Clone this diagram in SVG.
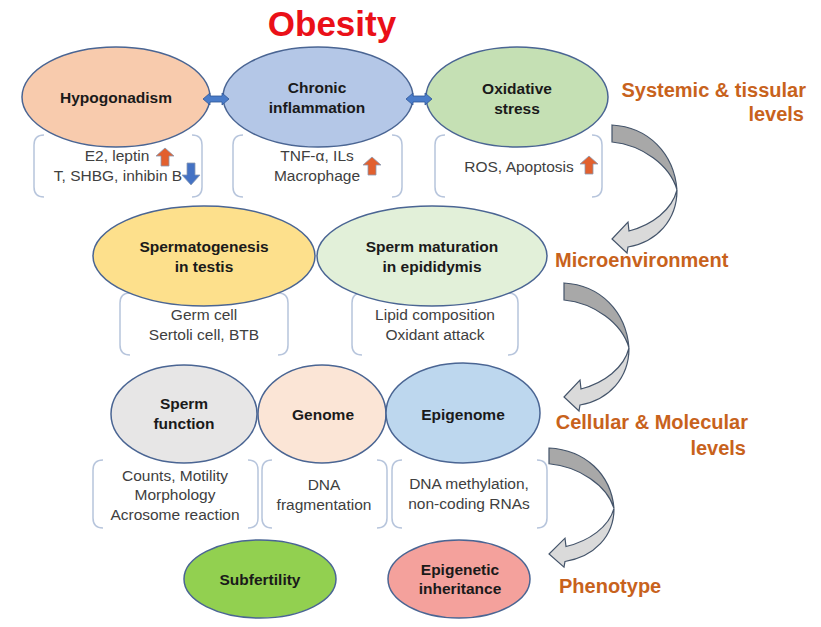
<svg xmlns="http://www.w3.org/2000/svg" width="821" height="627" viewBox="0 0 821 627">
<style>
.node{stroke:#4a6593;stroke-width:1.5}
.lbl{font-family:"Liberation Sans",Arial,sans-serif;font-weight:bold;font-size:15.5px;fill:#1a1a1a;text-anchor:middle}
.dsc{font-family:"Liberation Sans",Arial,sans-serif;font-size:15.5px;fill:#404040;text-anchor:middle}
.lvl{font-family:"Liberation Sans",Arial,sans-serif;font-weight:bold;font-size:20px;fill:#c8621c}
.brk{fill:none;stroke:#b7c5dc;stroke-width:1.5}
.up{fill:#e2602e;stroke:#8a9bb3;stroke-width:0.8}
.down{fill:#4472c4;stroke:#8a9bb3;stroke-width:0.8}
.dbl{fill:#4a7cc9;stroke:#2f5597;stroke-width:0.8}
.cback{fill:#a8a8a8;stroke:#44546a;stroke-width:1.2}
.cfront{fill:#dadada;stroke:#44546a;stroke-width:1.2}
</style>
<defs>
<path id="uparrow" d="M9,0 L18,8 L13,8 L13,18 L5,18 L5,8 L0,8 Z"/>
<path id="dnarrow" d="M5,0 H13 V12 H18 L9,22 L0,12 H5 Z"/>
<path id="dblarrow" d="M0,6 L7,0 V3 H19 V0 L26,6 L19,12 V9 H7 V12 Z"/>
<g id="curved">
<path class="cback" d="M0,0 C36,2 62,28 65,65 C58,40 30,20 0,17 Z"/>
<path class="cfront" d="M65,65 C65,95 45,117 16,122 L15,128 L0,114 L16,97 L17,106 C40,100 60,85 65,65 Z"/>
</g>
</defs>
<rect width="821" height="627" fill="#ffffff"/>

<text x="332" y="36" font-family="Liberation Sans,Arial,sans-serif" font-weight="bold" font-size="35" fill="#ea1018" text-anchor="middle">Obesity</text>

<g id="hypogonadism">
<path class="brk" d="M44,135 Q34,135 34,145 V187 Q34,197 44,197 M192,135 Q202,135 202,145 V187 Q202,197 192,197"/>
<ellipse class="node" cx="116" cy="97" rx="94" ry="50" fill="#f8cbad"/>
<text class="lbl" x="116" y="103">Hypogonadism</text>
<text class="dsc" x="117" y="161">E2, leptin</text>
<text class="dsc" x="118" y="181">T, SHBG, inhibin B</text>
<use href="#uparrow" class="up" x="156" y="148"/>
<use href="#dnarrow" class="down" x="182" y="163"/>
</g>

<g id="chronic-inflammation">
<path class="brk" d="M243,135 Q233,135 233,145 V187 Q233,197 243,197 M392,135 Q402,135 402,145 V187 Q402,197 392,197"/>
<ellipse class="node" cx="318" cy="97" rx="95" ry="50" fill="#b4c7e7"/>
<text class="lbl" x="317" y="93">Chronic</text>
<text class="lbl" x="317" y="113">inflammation</text>
<text class="dsc" x="317" y="161">TNF-α, ILs</text>
<text class="dsc" x="317" y="181">Macrophage</text>
<use href="#uparrow" class="up" x="363" y="157"/>
</g>

<g id="oxidative-stress">
<path class="brk" d="M445,135 Q435,135 435,145 V187 Q435,197 445,197 M592,135 Q602,135 602,145 V187 Q602,197 592,197"/>
<ellipse class="node" cx="517" cy="97" rx="91" ry="50" fill="#c5e0b4"/>
<text class="lbl" x="517" y="94">Oxidative</text>
<text class="lbl" x="517" y="114">stress</text>
<text class="dsc" x="519" y="172">ROS, Apoptosis</text>
<use href="#uparrow" class="up" x="580" y="156"/>
</g>

<text class="lvl" x="806" y="97" text-anchor="end">Systemic &amp; tissular</text>
<text class="lvl" x="804" y="121" text-anchor="end">levels</text>

<g id="spermatogenesis">
<path class="brk" d="M130,293 Q120,293 120,303 V345 Q120,355 130,355 M278,293 Q288,293 288,303 V345 Q288,355 278,355"/>
<ellipse class="node" cx="204" cy="256" rx="111" ry="50" fill="#fde08c"/>
<text class="lbl" x="204" y="252">Spermatogenesis</text>
<text class="lbl" x="204" y="272">in testis</text>
<text class="dsc" x="204" y="320">Germ cell</text>
<text class="dsc" x="204" y="340">Sertoli cell, BTB</text>
</g>

<g id="sperm-maturation">
<path class="brk" d="M362,293 Q352,293 352,303 V345 Q352,355 362,355 M508,293 Q518,293 518,303 V345 Q518,355 508,355"/>
<ellipse class="node" cx="432" cy="256" rx="115" ry="50" fill="#e2f0d9"/>
<text class="lbl" x="432" y="252">Sperm maturation</text>
<text class="lbl" x="432" y="272">in epididymis</text>
<text class="dsc" x="435" y="320">Lipid composition</text>
<text class="dsc" x="435" y="340">Oxidant attack</text>
</g>

<text class="lvl" x="555" y="267">Microenvironment</text>

<g id="sperm-function">
<path class="brk" d="M103,460 Q93,460 93,470 V518 Q93,528 103,528 M248,460 Q258,460 258,470 V518 Q258,528 248,528"/>
<ellipse class="node" cx="184" cy="414" rx="73" ry="49" fill="#e7e6e6"/>
<text class="lbl" x="184" y="409">Sperm</text>
<text class="lbl" x="184" y="429">function</text>
<text class="dsc" x="175" y="481">Counts, Motility</text>
<text class="dsc" x="175" y="500">Morphology</text>
<text class="dsc" x="175" y="520">Acrosome reaction</text>
</g>

<g id="genome">
<path class="brk" d="M272,460 Q262,460 262,470 V518 Q262,528 272,528 M377,460 Q387,460 387,470 V518 Q387,528 377,528"/>
<ellipse class="node" cx="322" cy="414" rx="64" ry="49" fill="#fbe5d6"/>
<text class="lbl" x="323" y="420">Genome</text>
<text class="dsc" x="324" y="490">DNA</text>
<text class="dsc" x="324" y="510">fragmentation</text>
</g>

<g id="epigenome">
<path class="brk" d="M402,460 Q392,460 392,470 V518 Q392,528 402,528 M537,460 Q547,460 547,470 V518 Q547,528 537,528"/>
<ellipse class="node" cx="463" cy="413" rx="77" ry="50" fill="#bdd7ee"/>
<text class="lbl" x="463" y="420">Epigenome</text>
<text class="dsc" x="469" y="489">DNA methylation,</text>
<text class="dsc" x="469" y="509">non-coding RNAs</text>
</g>

<text class="lvl" x="748" y="429" text-anchor="end">Cellular &amp; Molecular</text>
<text class="lvl" x="746" y="455" text-anchor="end">levels</text>

<g id="subfertility">
<ellipse class="node" cx="260" cy="579" rx="76" ry="39" fill="#92d050"/>
<text class="lbl" x="260" y="585">Subfertility</text>
</g>

<g id="epigenetic-inheritance">
<ellipse class="node" cx="459" cy="579" rx="71" ry="39" fill="#f4a19c"/>
<text class="lbl" x="460" y="575">Epigenetic</text>
<text class="lbl" x="460" y="594">inheritance</text>
</g>

<text class="lvl" x="559" y="593">Phenotype</text>

<g id="connectors">
<use href="#dblarrow" class="dbl" x="203" y="93"/>
<use href="#dblarrow" class="dbl" x="406" y="93"/>
<use href="#curved" x="612" y="125"/>
<use href="#curved" x="564" y="283"/>
<use href="#curved" transform="translate(549,448) scale(1,0.93)"/>
</g>
</svg>
